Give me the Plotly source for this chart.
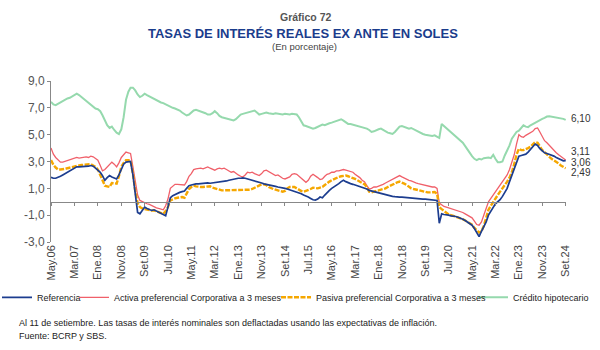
import plotly.graph_objects as go
import pandas as pd

# ---------------- data (monthly, May 2006 - Sep 2024) ----------------
start_month = "2006-05-01"

credito_hipotecario = [
    7.45, 7.25, 7.2, 7.3, 7.4, 7.55, 7.65, 7.7,                       # 2006
    7.75, 7.85, 8.0, 8.05, 7.95, 7.8, 7.65, 7.5, 7.35, 7.2, 7.05, 6.95, # 2007
    6.9, 6.75, 6.45, 6.0, 5.7, 5.5, 5.6, 5.35, 5.15, 5.05, 5.4, 6.3,    # 2008
    7.6, 8.2, 8.5, 8.5, 8.3, 8.0, 7.8, 7.9, 8.05, 7.95, 7.85, 7.8,      # 2009
    7.7, 7.6, 7.5, 7.4, 7.35, 7.25, 7.2, 7.1, 7.0, 6.95, 6.9, 6.8,      # 2010
    6.65, 6.5, 6.43, 6.5, 6.65, 6.8, 6.85, 6.8, 6.75, 6.7, 6.6, 6.5,    # 2011
    6.5, 6.6, 6.75, 6.6, 6.4, 6.3, 6.25, 6.2, 6.15, 6.1, 6.06, 6.15,    # 2012
    6.3, 6.5, 6.55, 6.6, 6.65, 6.75, 6.8, 6.8, 6.65, 6.5, 6.55, 6.6,    # 2013
    6.65, 6.6, 6.55, 6.55, 6.6, 6.55, 6.55, 6.5, 6.55, 6.5, 6.5, 6.55, # 2014
    6.55, 6.5, 6.3, 6.0, 5.7, 5.65, 5.6, 5.55, 5.45, 5.5, 5.6, 5.7,    # 2015
    5.75, 5.7, 5.8, 5.85, 5.9, 5.95, 6.0, 6.1, 6.15, 6.05, 5.9, 5.8,   # 2016
    5.8, 5.75, 5.7, 5.7, 5.65, 5.55, 5.5, 5.45, 5.35, 5.2, 5.25, 5.35, # 2017
    5.4, 5.45, 5.35, 5.2, 5.15, 5.1, 5.05, 5.2, 5.4, 5.6, 5.65, 5.6,   # 2018
    5.5, 5.45, 5.5, 5.4, 5.3, 5.2, 5.1, 5.05, 5.0, 4.95, 4.95, 4.9,    # 2019
    4.95, 4.85, 4.75, 5.8, 5.65, 5.45, 5.3, 5.2, 5.05, 4.9, 4.75, 4.6, # 2020
    4.4, 4.15, 3.9, 3.65, 3.4, 3.2, 3.1, 3.2, 3.15, 3.25, 3.3, 3.3,    # 2021
    3.25, 3.5, 3.2, 2.95, 2.95, 3.0, 3.45, 3.8, 4.2, 4.7, 5.0, 5.2,    # 2022
    5.3, 5.5, 5.7, 5.6, 5.56, 5.7, 5.8, 5.93, 6.0, 6.1, 6.18, 6.25,    # 2023
    6.35, 6.38, 6.35, 6.3, 6.3, 6.28, 6.22, 6.18, 6.10,                # 2024
]

activa = [
    4.0, 3.55, 3.3, 3.1, 2.95, 2.95, 3.0, 3.05,                        # 2006
    3.1, 3.2, 3.25, 3.3, 3.25, 3.3, 3.3, 3.35, 3.3, 3.4, 3.35, 3.25,   # 2007
    3.1, 2.7, 2.3, 2.4, 2.6, 2.75, 2.95, 2.8, 2.6, 2.9, 3.3, 3.5,      # 2008
    3.7, 3.65, 3.6, 2.6, 1.4, 0.5, 0.1, 0.0, -0.1, -0.15, -0.2, -0.3,  # 2009
    -0.35, -0.45, -0.5, -0.55, -0.6, -0.3, 0.2, 1.0, 1.15, 1.3, 1.3, 1.3, # 2010
    1.3, 1.25, 1.5, 1.9, 2.1, 2.4, 2.45, 2.5, 2.5, 2.45, 2.55, 2.6,    # 2011
    2.5, 2.4, 2.35, 2.45, 2.5, 2.45, 2.5, 2.4, 2.3, 2.2, 2.25, 2.1,    # 2012
    2.0, 1.9, 1.85, 2.0, 2.2, 2.15, 2.2, 2.1, 2.0, 1.95, 2.1, 2.3,     # 2013
    2.35, 2.25, 2.1, 2.0, 1.95, 2.0, 1.85, 1.75, 1.7, 1.8, 1.85, 2.05, # 2014
    2.1, 2.05, 1.9, 1.7, 1.55, 1.45, 1.6, 1.9, 2.05, 1.95, 1.8, 1.65,  # 2015
    1.7, 1.9, 2.05, 2.1, 2.2, 2.2, 2.3, 2.3, 2.35, 2.4, 2.35, 2.3,     # 2016
    2.3, 2.2, 2.05, 1.95, 1.8, 1.6, 1.5, 1.2, 0.95, 1.0, 1.1, 1.1,     # 2017
    1.15, 1.2, 1.3, 1.4, 1.5, 1.6, 1.65, 1.8, 1.9, 1.95, 1.85, 1.75,   # 2018
    1.65, 1.6, 1.55, 1.45, 1.4, 1.35, 1.3, 1.25, 1.2, 1.15, 1.1, 1.1,  # 2019
    1.1, 1.0, -0.1, -0.25, -0.35, -0.4, -0.45, -0.5, -0.55, -0.6, -0.65, -0.75, # 2020
    -0.8, -0.9, -1.0, -1.1, -1.2, -1.45, -1.7, -1.75, -1.5, -1.0, -0.5, 0.0,    # 2021
    0.25, 0.5, 0.75, 0.95, 1.2, 1.45, 1.7, 2.0, 2.4, 2.9, 3.5, 4.3,    # 2022
    5.0, 4.85, 4.8, 4.95, 5.05, 5.1, 5.25, 5.45, 5.5, 5.2, 4.8, 4.55,  # 2023
    4.4, 4.2, 4.0, 3.8, 3.65, 3.5, 3.35, 3.2, 3.11,                    # 2024
]

pasiva = [
    3.1, 2.75, 2.55, 2.4, 2.4, 2.4, 2.45, 2.5,                         # 2006
    2.55, 2.6, 2.65, 2.7, 2.7, 2.75, 2.75, 2.75, 2.8, 2.8, 2.7, 2.6,   # 2007
    2.4, 2.0, 1.5, 1.2, 1.15, 1.1, 1.4, 1.4, 1.35, 1.9, 2.6, 2.9,      # 2008
    3.1, 3.1, 3.05, 2.1, 0.8, -0.1, -0.4, -0.5, -0.55, -0.6, -0.6, -0.65, # 2009
    -0.65, -0.7, -0.75, -0.8, -0.9, -0.7, -0.4, 0.1, 0.2, 0.25, 0.3, 0.35, # 2010
    0.35, 0.3, 0.6, 0.95, 1.1, 1.2, 1.15, 1.1, 1.1, 1.1, 1.1, 1.15,    # 2011
    1.15, 1.05, 1.0, 0.95, 0.9, 0.85, 0.85, 0.85, 0.85, 0.85, 0.85, 0.9, # 2012
    0.9, 0.85, 0.85, 0.85, 0.85, 0.9, 0.95, 1.05, 1.1, 1.2, 1.3, 1.3,  # 2013
    1.25, 1.1, 1.0, 0.95, 0.9, 0.85, 0.8, 0.75, 0.8, 1.0, 1.1, 1.1,    # 2014
    1.1, 1.0, 0.9, 0.8, 0.75, 0.8, 0.85, 0.95, 1.05, 1.0, 1.0, 1.05,   # 2015
    1.1, 1.25, 1.4, 1.5, 1.6, 1.7, 1.8, 1.85, 1.9, 1.95, 1.95, 1.9,    # 2016
    1.85, 1.75, 1.7, 1.6, 1.5, 1.4, 1.3, 1.1, 0.75, 0.7, 0.75, 0.8,    # 2017
    0.8, 0.85, 0.9, 1.0, 1.1, 1.2, 1.25, 1.35, 1.45, 1.5, 1.45, 1.35,  # 2018
    1.25, 1.1, 1.0, 0.95, 0.9, 0.85, 0.8, 0.75, 0.75, 0.7, 0.7, 0.7,   # 2019
    0.72, 0.6, -0.4, -0.55, -0.7, -0.85, -0.95, -1.0, -1.05, -1.1, -1.15, -1.2, # 2020
    -1.3, -1.4, -1.5, -1.6, -1.7, -1.95, -2.1, -2.3, -2.2, -1.8, -1.2, -0.6,    # 2021
    -0.3, 0.0, 0.3, 0.5, 0.75, 1.0, 1.2, 1.5, 1.8, 2.2, 2.8, 3.5,      # 2022
    3.95, 3.85, 3.85, 3.9, 4.0, 4.1, 4.3, 4.45, 4.4, 4.1, 3.85, 3.7,   # 2023
    3.5, 3.35, 3.2, 3.1, 2.95, 2.85, 2.7, 2.6, 2.49,                   # 2024
]

referencia = [
    1.83, 1.75, 1.75, 1.8, 1.9, 2.0, 2.1, 2.2,                         # 2006
    2.3, 2.45, 2.55, 2.6, 2.6, 2.6, 2.6, 2.6, 2.65, 2.7, 2.65, 2.5,    # 2007
    2.35, 2.2, 1.95, 1.6, 1.8, 1.95, 1.85, 1.8, 1.7, 2.0, 2.4, 2.8,    # 2008
    2.95, 3.0, 3.0, 2.0, 0.7, -0.8, -0.9, -0.6, -0.4, -0.5, -0.6, -0.65, # 2009
    -0.6, -0.7, -0.8, -0.85, -1.0, -1.05, -0.4, 0.3, 0.45, 0.55, 0.65, 0.7, # 2010
    0.75, 0.8, 1.0, 1.2, 1.25, 1.3, 1.33, 1.33, 1.35, 1.38, 1.4, 1.4,  # 2011
    1.38, 1.4, 1.45, 1.45, 1.5, 1.5, 1.5, 1.55, 1.6, 1.65, 1.65, 1.7,  # 2012
    1.75, 1.75, 1.78, 1.75, 1.7, 1.65, 1.6, 1.6, 1.55, 1.5, 1.4, 1.33, # 2013
    1.3, 1.28, 1.25, 1.2, 1.15, 1.1, 1.08, 1.05, 1.0, 0.95, 0.9, 0.85, # 2014
    0.8, 0.75, 0.7, 0.6, 0.5, 0.45, 0.35, 0.25, 0.15, 0.12, 0.2, 0.35, # 2015
    0.3, 0.5, 0.7, 0.85, 1.0, 1.1, 1.2, 1.35, 1.5, 1.6, 1.5, 1.4,      # 2016
    1.35, 1.3, 1.25, 1.2, 1.15, 1.05, 1.0, 0.95, 0.85, 0.8, 0.75, 0.7, # 2017
    0.65, 0.6, 0.55, 0.5, 0.45, 0.4, 0.4, 0.38, 0.35, 0.35, 0.35, 0.33, # 2018
    0.3, 0.3, 0.28, 0.27, 0.27, 0.25, 0.22, 0.2, 0.2, 0.18, 0.15, 0.15, # 2019
    0.15, 0.1, -1.6, -0.9, -0.95, -0.95, -1.0, -1.05, -1.05, -1.1, -1.15, -1.2, # 2020
    -1.3, -1.4, -1.5, -1.6, -1.75, -2.0, -2.3, -2.6, -2.2, -1.9, -1.5, -1.0,    # 2021
    -0.7, -0.4, -0.15, 0.0, 0.15, 0.4, 0.65, 1.0, 1.5, 2.0, 2.5, 3.0,  # 2022
    3.4, 3.45, 3.5, 3.55, 3.7, 3.9, 4.05, 4.3, 4.2, 3.95, 3.8, 3.65,   # 2023
    3.6, 3.55, 3.5, 3.4, 3.3, 3.2, 3.15, 3.05, 3.06,                   # 2024
]

series_names = ["Referencia", "Activa preferencial Corporativa a 3 meses",
                "Pasiva preferencial Corporativa a 3 meses", "Crédito hipotecario"]
end_labels = ["3,06", "3,11", "2,49", "6,10"]

x_tick_labels = ["May.06", "Mar.07", "Ene.08", "Nov.08", "Set.09", "Jul.10", "May.11",
                 "Mar.12", "Ene.13", "Nov.13", "Set.14", "Jul.15", "May.16", "Mar.17",
                 "Ene.18", "Nov.18", "Set.19", "Jul.20", "May.21", "Mar.22", "Ene.23",
                 "Nov.23", "Set.24"]
y_tick_vals = [-3, -1, 1, 3, 5, 7, 9]
y_tick_text = ["-3,0", "-1,0", "1,0", "3,0", "5,0", "7,0", "9,0"]

# ---------------- build ----------------
n = len(referencia)
assert len(activa) == n and len(pasiva) == n and len(credito_hipotecario) == n
dates = pd.date_range(start=start_month, periods=n, freq="MS")
tick_dates = pd.date_range(start=start_month, periods=len(x_tick_labels), freq="10MS")

FONT = "Liberation Sans, Arial, sans-serif"
C_REF = "#1c3d8f"
C_ACT = "#f0606a"
C_PAS = "#f5a700"
C_HIP = "#95d9ad"


def py(ypix):
    return (241.7 - ypix) / 161.0


def px(xpix):
    return (xpix - 51) / 515.0


fig = go.Figure()
fig.add_trace(go.Scatter(x=dates, y=credito_hipotecario, name=series_names[3], mode="lines",
                         line=dict(color=C_HIP, width=2), legend="legend4"))
fig.add_trace(go.Scatter(x=dates, y=activa, name=series_names[1], mode="lines",
                         line=dict(color=C_ACT, width=1.3), legend="legend2"))
fig.add_trace(go.Scatter(x=dates, y=pasiva, name=series_names[2], mode="lines",
                         line=dict(color=C_PAS, width=2.4, dash="5px,1.5px"), legend="legend3"))
fig.add_trace(go.Scatter(x=dates, y=referencia, name=series_names[0], mode="lines",
                         line=dict(color=C_REF, width=1.7), legend="legend"))
# helper trace so the zero-line axis is drawn
fig.add_trace(go.Scatter(x=[dates[0]], y=[None], xaxis="x2", showlegend=False,
                         hoverinfo="skip", mode="lines"))

# end labels
last_x = dates[-1]
shifts = [-1.5, 8.5, -4, 1]
vals = [referencia[-1], activa[-1], pasiva[-1], credito_hipotecario[-1]]
for lab, v, s in zip(end_labels, vals, shifts):
    fig.add_annotation(x=last_x, y=v, text=lab, showarrow=False, xanchor="left",
                       yanchor="middle", xshift=3, yshift=s,
                       font=dict(family=FONT, size=10, color="#333"))

x_range = [pd.Timestamp("2006-05-01"), pd.Timestamp("2024-09-05")]

fig.add_annotation(xref="paper", yref="paper", x=px(306), y=py(17), yanchor="middle",
                   xanchor="center", text="<b>Gráfico 72</b>", showarrow=False,
                   font=dict(family=FONT, size=10.5, color="#555"))
fig.add_annotation(xref="paper", yref="paper", x=px(303), y=py(33), yanchor="middle",
                   xanchor="center", text="<b>TASAS DE INTERÉS REALES EX ANTE EN SOLES</b>",
                   showarrow=False, font=dict(family=FONT, size=13, color="#1a3c8c"))
fig.add_annotation(xref="paper", yref="paper", x=px(304), y=py(46), yanchor="middle",
                   xanchor="center", text="(En porcentaje)", showarrow=False,
                   font=dict(family=FONT, size=9.5, color="#444"))
fig.add_annotation(xref="paper", yref="paper", x=px(17), y=py(323), xanchor="left",
                   yanchor="middle",
                   text="Al 11 de setiembre. Las tasas de interés nominales son deflactadas usando las expectativas de inflación.",
                   showarrow=False, font=dict(family=FONT, size=9, color="#222"))
fig.add_annotation(xref="paper", yref="paper", x=px(17), y=py(336), xanchor="left",
                   yanchor="middle", text="Fuente: BCRP y SBS.",
                   showarrow=False, font=dict(family=FONT, size=9, color="#222"))

leg_font = dict(family=FONT, size=9, color="#222")


def leg(text_start_px):
    return dict(orientation="h", x=px(text_start_px - 51), y=py(297), xanchor="left",
                yanchor="middle", font=leg_font, itemwidth=30,
                bgcolor="rgba(0,0,0,0)", borderwidth=0)


fig.update_layout(
    width=600, height=350, autosize=False,
    margin=dict(l=51, r=34, t=81, b=108, autoexpand=False),
    paper_bgcolor="white", plot_bgcolor="white",
    font=dict(family=FONT, size=11, color="#444"),
    showlegend=True,
    legend=leg(48), legend2=leg(125), legend3=leg(327), legend4=leg(524),
    xaxis=dict(type="date", range=x_range, tickvals=tick_dates, ticktext=x_tick_labels,
               tickangle=-90, showline=False, ticks="", showgrid=False, zeroline=False,
               tickfont=dict(family=FONT, size=11, color="#444")),
    xaxis2=dict(type="date", overlaying="x", anchor="free", position=0.25, range=x_range,
                tickvals=tick_dates, showticklabels=False, ticks="outside", ticklen=3,
                tickcolor="#888", showline=True, linecolor="#888", linewidth=1,
                showgrid=False, zeroline=False),
    yaxis=dict(range=[-3, 9], tickvals=y_tick_vals, ticktext=y_tick_text,
               showline=True, linecolor="#888", linewidth=1, ticks="outside", ticklen=3,
               tickcolor="#888", showgrid=False, zeroline=False,
               tickfont=dict(family=FONT, size=12, color="#555")),
)

fig.write_html("out.html")
